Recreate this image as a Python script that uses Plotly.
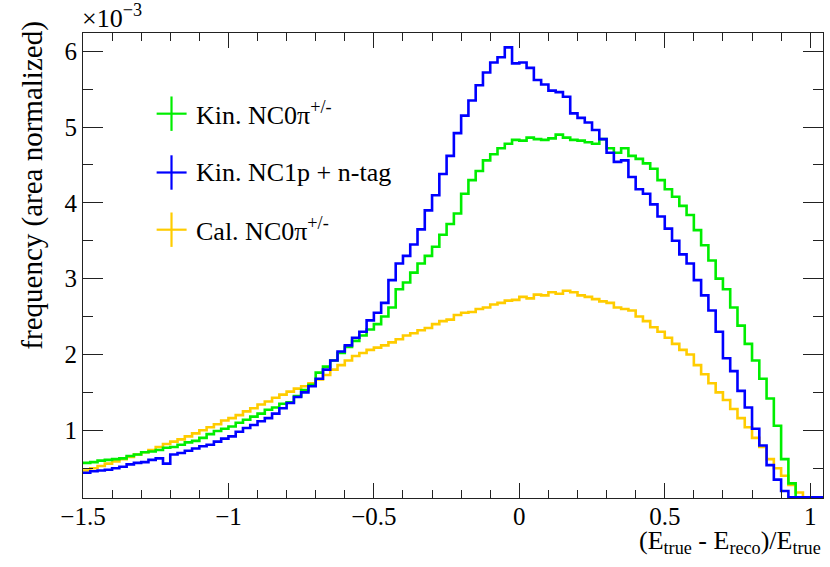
import numpy as np
import plotly.graph_objects as go

# binning of the histograms (units of the x axis)
bin_lo = -1.5
bin_hi = 1.05
n_bins = 102

# bin contents, in units of 1e-3 (0.025 wide bins)
kin_nc0pi = [
    0.57, 0.58, 0.60, 0.61,  0.62, 0.63, 0.66, 0.68,  0.71, 0.72, 0.74, 0.77,
    0.78, 0.81, 0.84, 0.86,  0.90, 0.95, 0.99, 1.02,  1.05, 1.10, 1.14, 1.18,
    1.22, 1.27, 1.30, 1.35,  1.37, 1.45, 1.53, 1.60,  1.76, 1.84, 1.92, 2.02,
    2.10, 2.18, 2.25, 2.33,  2.40, 2.50, 2.62, 2.86,  2.95, 3.08, 3.20, 3.30,
    3.42, 3.58, 3.72, 3.86,  4.12, 4.30, 4.42, 4.56,  4.64, 4.72, 4.78, 4.83,
    4.82, 4.86, 4.84, 4.83,  4.85, 4.90, 4.86, 4.83,  4.82, 4.80, 4.78, 4.84,
    4.72, 4.66, 4.72, 4.62,  4.58, 4.52, 4.45, 4.30,  4.18, 4.08, 3.96, 3.84,
    3.64, 3.44, 3.24, 3.00,  2.86, 2.62, 2.38, 2.14,  1.92, 1.68, 1.42, 1.06,
    0.62, 0.30, 0.10, 0.05,  0.0, 0.0,
]
kin_nc1p = [
    0.44, 0.46, 0.47, 0.48,  0.50, 0.52, 0.55, 0.57,  0.58, 0.61, 0.63, 0.56,
    0.68, 0.70, 0.73, 0.76,  0.79, 0.81, 0.85, 0.89,  0.92, 0.98, 1.03, 1.07,
    1.12, 1.16, 1.22, 1.29,  1.36, 1.44, 1.50, 1.58,  1.68, 1.80, 1.92, 2.04,
    2.12, 2.22, 2.30, 2.45,  2.55, 2.68, 2.98, 3.20,  3.30, 3.45, 3.65, 3.90,
    4.10, 4.38, 4.62, 4.92,  5.15, 5.35, 5.55, 5.72,  5.85, 5.92, 6.05, 5.84,
    5.85, 5.78, 5.62, 5.56,  5.48, 5.46, 5.40, 5.18,  5.12, 5.06, 4.96, 4.84,
    4.66, 4.54, 4.56, 4.34,  4.18, 4.12, 3.98, 3.82,  3.66, 3.50, 3.32, 3.20,
    2.98, 2.78, 2.58, 2.30,  1.95, 1.78, 1.52, 1.30,  1.02, 0.80, 0.54, 0.35,
    0.20, 0.08, 0.0, 0.0,  0.0, 0.0,
]
cal_nc0pi = [
    0.47, 0.50, 0.53, 0.56,  0.59, 0.62, 0.65, 0.68,  0.71, 0.74, 0.78, 0.82,
    0.85, 0.88, 0.92, 0.96,  1.00, 1.04, 1.08, 1.13,  1.16, 1.20, 1.25, 1.29,
    1.34, 1.38, 1.43, 1.47,  1.51, 1.55, 1.58, 1.62,  1.67, 1.73, 1.80, 1.86,
    1.92, 1.98, 2.02, 2.06,  2.09, 2.12, 2.16, 2.20,  2.25, 2.28, 2.32, 2.35,
    2.40, 2.44, 2.46, 2.52,  2.55, 2.56, 2.60, 2.62,  2.66, 2.68, 2.71, 2.72,
    2.76, 2.74, 2.79, 2.78,  2.82, 2.80, 2.84, 2.82,  2.78, 2.76, 2.73, 2.70,
    2.68, 2.62, 2.60, 2.58,  2.50, 2.44, 2.36, 2.30,  2.22, 2.14, 2.06, 2.00,
    1.86, 1.74, 1.62, 1.50,  1.40, 1.28, 1.16, 1.04,  0.90, 0.78, 0.62, 0.50,
    0.40, 0.28, 0.18, 0.10,  0.05, 0.0,
]

names = ["Kin. NC0π<sup>+/-</sup>", "Kin. NC1p + n-tag", "Cal. NC0π<sup>+/-</sup>"]
colors = ["#00ee00", "#0000ff", "#ffcc00"]
series = [kin_nc0pi, kin_nc1p, cal_nc0pi]

y_min, y_max = 0.107, 6.24
x_min, x_max = -1.5, 1.044

font = "Liberation Serif"

edges = np.linspace(bin_lo, bin_hi, n_bins + 1)

fig = go.Figure()
# orange first so the others sit on top of it
for idx in [2, 0, 1]:
    vals = np.array(series[idx])
    # ROOT draws empty bins along the frame bottom
    vals = np.maximum(vals, y_min + 0.01)
    fig.add_trace(go.Scatter(
        x=edges,
        y=np.append(vals, vals[-1]),
        mode="lines",
        line=dict(color=colors[idx], width=2.6, shape="hv"),
        showlegend=False,
        hoverinfo="skip",
    ))

# hand-made ROOT style legend (cross markers)
leg_y = [0.8265, 0.700, 0.577]
for name, col, ly in zip(names, colors, leg_y):
    fig.add_shape(type="line", xref="paper", yref="paper",
                  x0=0.0995, x1=0.1400, y0=ly, y1=ly,
                  line=dict(color=col, width=2.2))
    fig.add_shape(type="line", xref="paper", yref="paper",
                  x0=0.1196, x1=0.1196, y0=ly - 0.037, y1=ly + 0.037,
                  line=dict(color=col, width=2.2))
    fig.add_annotation(text=name, xref="paper", yref="paper",
                       x=0.150, y=ly, xanchor="left", yanchor="middle",
                       showarrow=False, font=dict(family=font, size=26, color="black"))

fig.add_annotation(text="×10<sup>−3</sup>", xref="paper", yref="paper",
                   x=-0.004, y=0.995, xanchor="left", yanchor="bottom",
                   showarrow=False, font=dict(family=font, size=26, color="black"))

# axis titles, right aligned like ROOT
fig.add_annotation(text="(E<sub>true</sub> - E<sub>reco</sub>)/E<sub>true</sub>",
                   xref="paper", yref="paper", x=1.0, y=-0.095,
                   xanchor="right", yanchor="middle", showarrow=False,
                   font=dict(family=font, size=26, color="black"))
fig.add_annotation(text="frequency (area normalized)", textangle=-90,
                   xref="paper", yref="paper", x=-0.068, y=1.028,
                   xanchor="center", yanchor="top", showarrow=False,
                   font=dict(family=font, size=29, color="black"))

fig.update_layout(
    width=830,
    height=567,
    paper_bgcolor="white",
    plot_bgcolor="white",
    margin=dict(l=83, r=7, t=33, b=69, autoexpand=False),
    font=dict(family=font, size=24, color="black"),
)
fig.update_xaxes(
    range=[x_min, x_max], automargin=False,
    showgrid=False, zeroline=False,
    showline=True, linecolor="#222", linewidth=1.2, mirror="allticks",
    ticks="inside", ticklen=15, tickcolor="#222", tickwidth=1.2,
    tick0=-1.5, dtick=0.5, ticklabelstandoff=-4,
    minor=dict(ticks="inside", ticklen=8, dtick=0.1, tickcolor="#222", showgrid=False),
    tickfont=dict(family=font, size=25),
)
fig.update_yaxes(
    range=[y_min, y_max], automargin=False,
    showgrid=False, zeroline=False,
    showline=True, linecolor="#222", linewidth=1.2, mirror="allticks",
    ticks="inside", ticklen=20, tickcolor="#222", tickwidth=1.2,
    tick0=0, dtick=1,
    minor=dict(ticks="inside", ticklen=10, dtick=0.5, tickcolor="#222", showgrid=False),
    tickfont=dict(family=font, size=25),
)

# the page body has a default 8px margin; drop it so the figure fills the window
fig.write_html("out.html", config={"displayModeBar": False},
               post_script="document.body.style.margin='0';")
